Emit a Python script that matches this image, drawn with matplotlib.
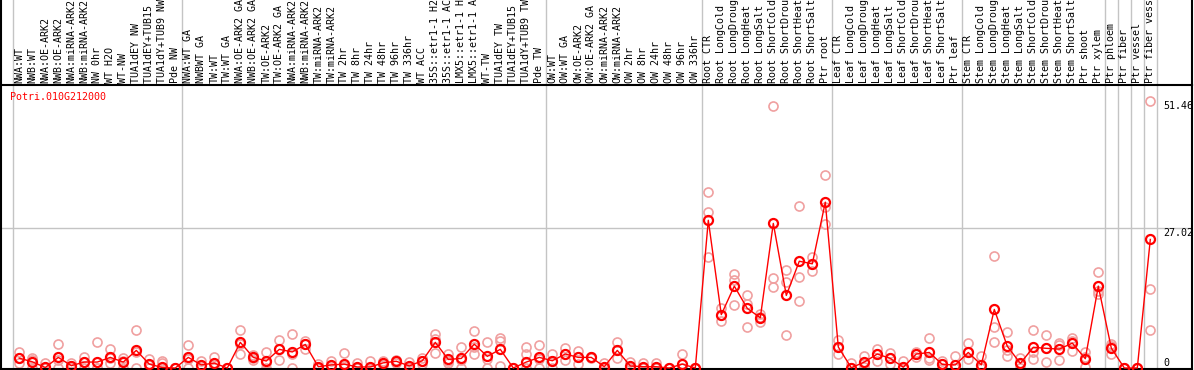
import matplotlib
matplotlib.use("Agg")
import matplotlib.pyplot as plt
from matplotlib.lines import Line2D
import numpy as np

gene = "Potri.010G212000"

samples = [
    "NWA:WT", "NWB:WT", "NWA:OE-ARK2", "NWB:OE-ARK2", "NWA:miRNA-ARK2", "NWB:miRNA-ARK2",
    "NW 0hr", "WT H2O", "WT-NW", "TUA1dEY NW", "TUA1dEY+TUB15 NW", "TUA1dY+TUB9 NW", "Pde NW",
    "NWA:WT GA", "NWBWT GA", "TW:WT", "TW:WT GA", "NWA:OE-ARK2 GA", "NWB:OE-ARK2 GA",
    "TW:OE-ARK2", "TW:OE-ARK2 GA", "NWA:miRNA-ARK2", "NWB:miRNA-ARK2", "TW:miRNA-ARK2",
    "TW:miRNA-ARK2", "TW 2hr", "TW 8hr", "TW 24hr", "TW 48hr", "TW 96hr", "TW 336hr", "WT ACC",
    "35S::etr1-1 H2O", "35S::etr1-1 ACC", "LMX5::etr1-1 H2O", "LMX5::etr1-1 ACC", "WT-TW",
    "TUA1dEY TW", "TUA1dEY+TUB15 TW", "TUA1dY+TUB9 TW", "Pde TW",
    "OW:WT", "OW:WT GA", "OW:OE-ARK2", "OW:OE-ARK2 GA", "OW:miRNA-ARK2", "OW:miRNA-ARK2",
    "OW 2hr", "OW 8hr", "OW 24hr", "OW 48hr", "OW 96hr", "OW 336hr",
    "Root CTR", "Root LongCold", "Root LongDrought", "Root LongHeat", "Root LongSalt",
    "Root ShortCold", "Root ShortDrought", "Root ShortHeat", "Root ShortSalt", "Ptr root",
    "Leaf CTR", "Leaf LongCold", "Leaf LongDrought", "Leaf LongHeat", "Leaf LongSalt",
    "Leaf ShortCold", "Leaf ShortDrought", "Leaf ShortHeat", "Leaf ShortSalt", "Ptr leaf",
    "Stem CTR", "Stem LongCold", "Stem LongDrought", "Stem LongHeat", "Stem LongSalt",
    "Stem ShortCold", "Stem ShortDrought", "Stem ShortHeat", "Stem ShortSalt", "Ptr shoot",
    "Ptr xylem", "Ptr phloem", "Ptr fiber", "Ptr vessel", "Ptr fiber vessel",
]

# last sample index of each group (a separator line follows it)
group_ends = [12, 40, 52, 62, 72, 83, 84, 85, 86, 87]

mean = [
    1.9, 1.2, 0.1, 2.05, 0.45, 1.15, 1.15, 2.05, 1.15, 3.4, 0.75, 0.1, 0.0,
    2.05, 0.6, 0.95, 0.0, 4.95, 2.05, 1.35, 3.6, 3.1, 4.55, 0.25, 0.6, 0.75, 0.2, 0.2, 1.0,
    1.3, 0.4, 1.4, 4.95, 1.65, 1.85, 4.6, 2.25, 3.6, 0.0, 1.15, 2.05,
    1.4, 2.7, 2.05, 2.05, 0.25, 3.4, 0.4, 0.25, 0.25, 0.0, 0.75, 0.0,
    28.5, 10.3, 15.8, 11.5, 9.7, 27.9, 14.0, 20.6, 20.1, 32.0,
    4.05, 0.05, 1.15, 2.7, 1.85, 0.15, 2.7, 3.0, 0.7, 0.6,
    3.0, 0.6, 11.3, 4.2, 0.9, 4.0, 3.8, 3.65, 4.8, 1.8, 15.8,
    3.85, 0.0, 0.0, 24.8,
]

rep_hi = [
    3.1, 2.0, 1.0, 4.6, 1.0, 2.2, 5.0, 3.6, 2.0, 7.3, 1.7, 1.4, 0.0,
    4.4, 1.4, 2.05, 0.0, 7.3, 2.6, 3.1, 5.5, 6.6, 5.2, 0.7, 1.35, 2.95, 1.0, 1.35, 1.35,
    1.6, 1.2, 2.0, 6.5, 2.7, 4.0, 7.1, 5.0, 5.7, 0.0, 4.0, 4.4,
    2.7, 3.8, 3.3, 2.2, 1.0, 5.0, 1.2, 1.0, 1.0, 0.0, 2.7, 0.0,
    33.9, 11.5, 18.1, 14.1, 10.4, 50.6, 19.0, 31.3, 21.5, 37.2,
    5.5, 1.0, 2.25, 3.6, 2.95, 1.35, 3.1, 5.7, 1.35, 2.4,
    4.8, 2.3, 21.6, 6.9, 2.0, 7.3, 6.4, 4.9, 5.85, 3.1, 18.5,
    4.6, 0.0, 0.0, 51.46,
]

rep_mid = [
    1.9, 1.6, 0.0, 1.6, 0.4, 1.2, 0.0, 2.0, 1.4, 3.0, 0.6, 1.0, 0.0,
    1.8, 0.4, 0.8, 0.0, 4.7, 2.0, 1.0, 3.6, 2.7, 4.6, 0.0, 0.4, 0.3, 0.0, 0.0, 1.0,
    1.3, 0.0, 1.4, 5.6, 1.3, 1.5, 4.0, 1.8, 5.2, 0.0, 2.7, 1.8,
    1.4, 2.7, 2.05, 2.05, 0.0, 3.4, 0.0, 0.0, 0.0, 0.0, 0.0, 0.0,
    30.1, 10.3, 16.9, 12.3, 9.9, 17.4, 16.6, 17.5, 20.1, 31.1,
    4.0, 0.0, 1.0, 2.7, 1.9, 0.0, 2.7, 2.0, 0.8, 0.0,
    3.0, 0.0, 7.9, 3.5, 0.8, 3.0, 3.8, 4.5, 5.2, 2.2, 14.9,
    4.2, 0.0, 0.0, 15.2,
]

rep_lo = [
    1.0, 0.0, 0.0, 0.0, 0.0, 0.0, 0.0, 1.0, 0.0, 0.0, 0.0, 0.0, 0.0,
    0.0, 0.0, 0.0, 0.0, 2.8, 1.6, 0.0, 1.6, 0.0, 3.6, 0.0, 0.0, 0.0, 0.0, 0.0, 0.6,
    1.0, 0.0, 0.8, 2.95, 1.0, 0.0, 2.7, 0.0, 0.4, 0.0, 0.0, 0.0,
    0.0, 1.5, 0.8, 1.9, 0.0, 1.85, 0.0, 0.0, 0.0, 0.0, 0.0, 0.0,
    21.4, 9.0, 12.2, 7.9, 8.8, 15.7, 6.4, 13.0, 18.8, 27.8,
    2.7, 0.0, 0.2, 1.4, 0.8, 0.0, 2.2, 1.5, 0.0, 0.0,
    1.7, 0.0, 5.0, 2.3, 0.0, 1.8, 1.2, 1.55, 3.3, 0.2, 14.2,
    2.8, 0.0, 0.0, 7.3,
]

y_ticks = [0, 27.02, 51.46]

W, H = 1194, 370
fig = plt.figure(figsize=(W / 100, H / 100), dpi=100)

# plot area in pixels: x 1..1192, y 85..369 (from top)
ax = fig.add_axes([1 / W, 1 / H, 1191 / W, 284 / H])
step = 13.0
x0 = 19.3
ax.set_xlim((1 - x0) / step, (1192 - x0) / step)
ax.set_ylim(-0.19, 54.6)
ax.set_xticks([])
ax.set_yticks([])
for s in ax.spines.values():
    s.set_color("black")
    s.set_linewidth(1.5)

mono = "DejaVu Sans Mono"
grey = "#c4c4c4"
pink = "#f0a0a0"
x = np.arange(len(samples))

# separators reach through the label area
top_ext = 1 + 85 / 284
ax.axvline(-0.5, ymin=0, ymax=top_ext, color=grey, lw=1.0, clip_on=False, zorder=1)
for e in group_ends:
    ax.axvline(e + 0.5, ymin=0, ymax=top_ext, color=grey, lw=1.0, clip_on=False, zorder=1)
ax.axhline(y_ticks[1], color=grey, lw=1.0, zorder=1)

# frame around label area
fig.add_artist(Line2D([1 / W, 1 / W], [1 - 85 / H, 1], color="black", lw=1.5))
fig.add_artist(Line2D([1192 / W, 1192 / W], [1 - 85 / H, 1], color="black", lw=1.5))

for xs in (rep_hi, rep_mid, rep_lo):
    ax.plot(x, xs, "o", ms=6.5, mfc="none", mec=pink, mew=1.2, zorder=2, clip_on=False)
ax.plot(x, mean, "-", color="red", lw=1.0, zorder=3)
ax.plot(x, mean, "o", ms=6.5, mfc="none", mec="red", mew=1.6, zorder=4, clip_on=False)

for i, lab in enumerate(samples):
    ax.text(i, 1 + 2 / 284, lab, transform=ax.get_xaxis_transform(), rotation=90,
            ha="center", va="bottom", fontsize=7.2, family=mono, clip_on=False)

ax.text(9 / 1191, 1 - 12 / 284, gene, transform=ax.transAxes, color="red",
        fontsize=7.2, family=mono, va="center", ha="left")

xt = (1163 - 1) / 1191
ax.text(xt, y_ticks[0], "0", transform=ax.get_yaxis_transform(), fontsize=7.2,
        family=mono, va="bottom", ha="left")
ax.text(xt, y_ticks[1], "%.2f" % y_ticks[1], transform=ax.get_yaxis_transform(),
        fontsize=7.2, family=mono, va="top", ha="left")
ax.text(xt, y_ticks[2], "%.2f" % y_ticks[2], transform=ax.get_yaxis_transform(),
        fontsize=7.2, family=mono, va="top", ha="left")

fig.savefig("out.png", dpi=100)
